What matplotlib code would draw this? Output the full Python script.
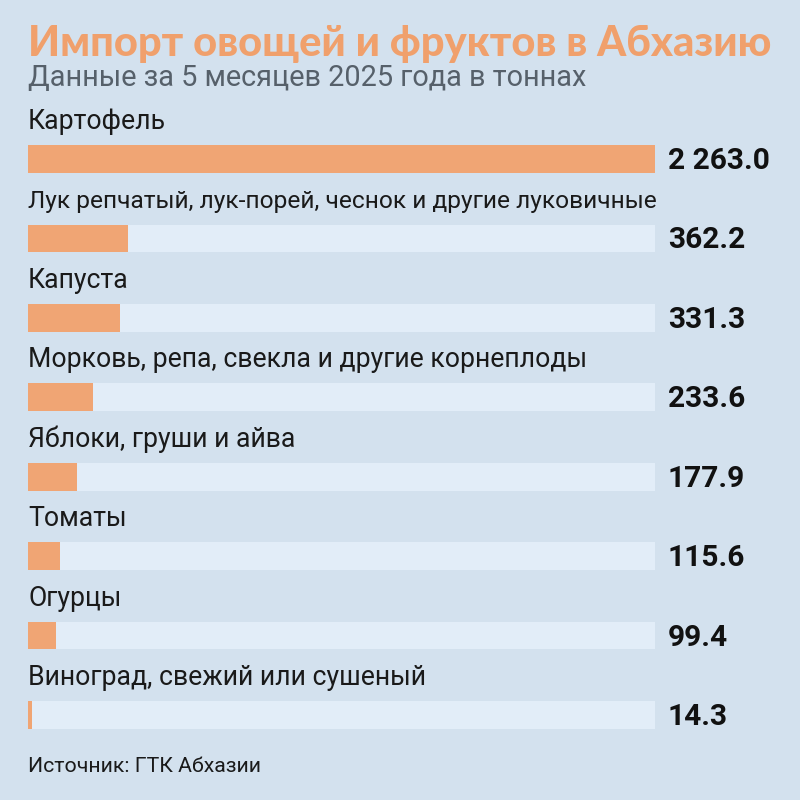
import matplotlib
matplotlib.use("Agg")
import matplotlib.pyplot as plt
from matplotlib.transforms import blended_transform_factory, offset_copy

categories = [
    "Картофель",
    "Лук репчатый, лук-порей, чеснок и другие луковичные",
    "Капуста",
    "Морковь, репа, свекла и другие корнеплоды",
    "Яблоки, груши и айва",
    "Томаты",
    "Огурцы",
    "Виноград, свежий или сушеный",
]
values = [2263.0, 362.2, 331.3, 233.6, 177.9, 115.6, 99.4, 14.3]
value_labels = ["2 263.0", "362.2", "331.3", "233.6", "177.9", "115.6", "99.4", "14.3"]

title = "Импорт овощей и фруктов в Абхазию"
subtitle = "Данные за 5 месяцев 2025 года в тоннах"
source = "Источник: ГТК Абхазии"

BG = "#d3e1ee"
TRACK = "#e2edf8"
BAR = "#f0a574"
TITLE_C = "#f0a06c"
SUB_C = "#56606a"

plt.rcParams['font.family'] = ['Roboto', 'DejaVu Sans']

fig = plt.figure(figsize=(8, 8), dpi=100, facecolor=BG)
W = H = 800.0
left_px, right_px = 28, 655
top_px, bot_px = 119.3, 754.7
ax = fig.add_axes([left_px / W, 1 - bot_px / H, (right_px - left_px) / W, (bot_px - top_px) / H])
ax.set_facecolor("none")
n = len(categories)
ys = list(range(n))
vmax = max(values)
ax.barh(ys, [vmax] * n, height=0.35, color=TRACK, zorder=1)
ax.barh(ys, values, height=0.35, color=BAR, zorder=2)
ax.set_xlim(0, vmax)
ax.set_ylim(n - 0.5, -0.5)
ax.axis("off")

renderer = fig.canvas.get_renderer()
max_w = right_px - left_px
trans_left = blended_transform_factory(ax.transAxes, ax.transData)
for i, (c, lab) in enumerate(zip(categories, value_labels)):
    txt = ax.text(0.0, i - 0.47, c, transform=trans_left, ha="left", va="center",
                  fontsize=19.2, color="#1a1a1a")
    if txt.get_window_extent(renderer).width > max_w:
        txt.set_family(["Liberation Sans Narrow", "Roboto", "DejaVu Sans"])
        w = txt.get_window_extent(renderer).width
        if w > max_w:
            txt.set_fontsize(19.2 * max_w / w)
    t = offset_copy(trans_left, fig=fig, x=13, y=-2, units="dots")
    ax.text(1.0, i, lab, transform=t, ha="left", va="center",
            fontsize=21.5, fontweight="bold", color="#111111")

fig.text(28 / W, 1 - 44 / H, title, ha="left", va="center", fontsize=30,
         fontweight="black", color=TITLE_C, family=["Lato", "DejaVu Sans"])
fig.text(28 / W, 1 - 78 / H, subtitle, ha="left", va="center", fontsize=20.8,
         color=SUB_C)
fig.text(28 / W, 1 - 767 / H, source, ha="left", va="center", fontsize=15.3,
         color="#1a1a1a")

fig.savefig("out.png", dpi=100, facecolor=BG)
